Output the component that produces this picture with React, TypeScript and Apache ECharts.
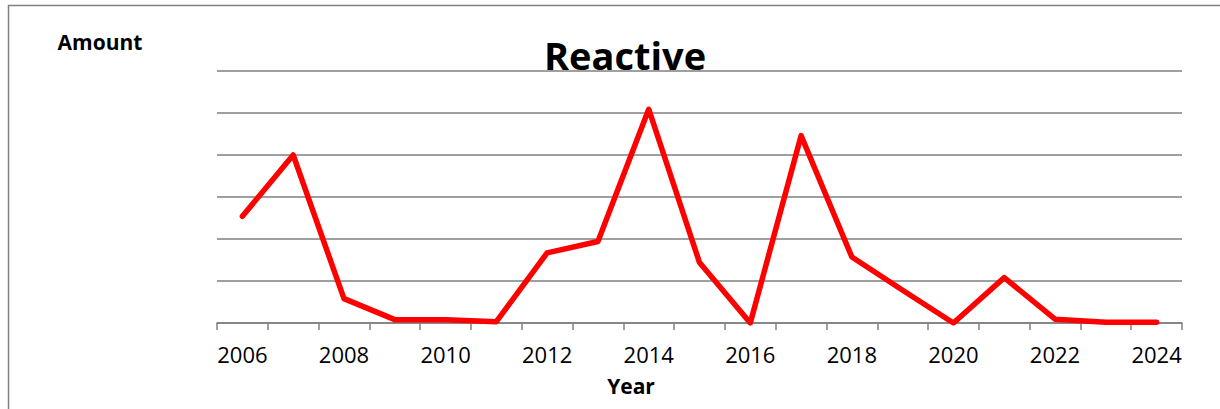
import React, { useEffect, useRef } from "react";
import * as echarts from "echarts";

const years = ["2006","2007","2008","2009","2010","2011","2012","2013","2014","2015","2016","2017","2018","2019","2020","2021","2022","2023","2024"];
const reactive = [2.54, 4.0, 0.58, 0.08, 0.08, 0.03, 1.67, 1.94, 5.09, 1.44, 0.0, 4.46, 1.57, 0.78, 0.0, 1.08, 0.09, 0.02, 0.02];
const titleText = "Reactive";
const yAxisTitle = "Amount";
const xAxisTitle = "Year";

const FONT = "'Open Sans'";

export default function App() {
  const ref = useRef<HTMLDivElement>(null);
  useEffect(() => {
    if (!ref.current) return;
    const chart = echarts.init(ref.current, null, { renderer: "svg" });
    chart.setOption({
      animation: false,
      backgroundColor: "#ffffff",
      grid: { left: 217, right: 38, top: 71, bottom: 86, containLabel: false },
      xAxis: {
        type: "category",
        data: years,
        boundaryGap: true,
        axisLine: { lineStyle: { color: "#7f7f7f", width: 1.5 } },
        axisTick: { show: true, interval: 0, length: 7, lineStyle: { color: "#7f7f7f", width: 1.5 } },
        axisLabel: { interval: 1, color: "#000", fontSize: 22, fontFamily: FONT, margin: 20 },
        splitLine: { show: false },
      },
      yAxis: {
        type: "value",
        min: 0,
        max: 6,
        interval: 1,
        axisLine: { show: false },
        axisTick: { show: false },
        axisLabel: { show: false },
        splitLine: { lineStyle: { color: "#7f7f7f", width: 1.5 } },
      },
      series: [
        {
          type: "line",
          data: reactive,
          symbol: "none",
          lineStyle: { color: "#ff0000", width: 5.5, cap: "round", join: "round" },
        },
      ],
      graphic: [
        {
          type: "rect",
          shape: { x: 8.5, y: 5.5, width: 1400, height: 600 },
          style: { fill: "none", stroke: "#7f7f7f", lineWidth: 1.5 },
          silent: true,
        },
        {
          type: "text",
          x: 625,
          y: 55,
          style: { text: titleText, fontSize: 38, fontWeight: "bold", fontFamily: FONT, fill: "#000", textAlign: "center", textVerticalAlign: "middle" },
        },
        {
          type: "text",
          x: 100,
          y: 42,
          style: { text: yAxisTitle, fontSize: 21, fontWeight: "bold", fontFamily: FONT, fill: "#000", textAlign: "center", textVerticalAlign: "middle" },
        },
        {
          type: "text",
          x: 631,
          y: 386,
          style: { text: xAxisTitle, fontSize: 21, fontWeight: "bold", fontFamily: FONT, fill: "#000", textAlign: "center", textVerticalAlign: "middle" },
        },
      ],
    });
    return () => chart.dispose();
  }, []);
  return <div ref={ref} style={{ position: "absolute", left: 0, top: 0, width: 1220, height: 409 }} />;
}
